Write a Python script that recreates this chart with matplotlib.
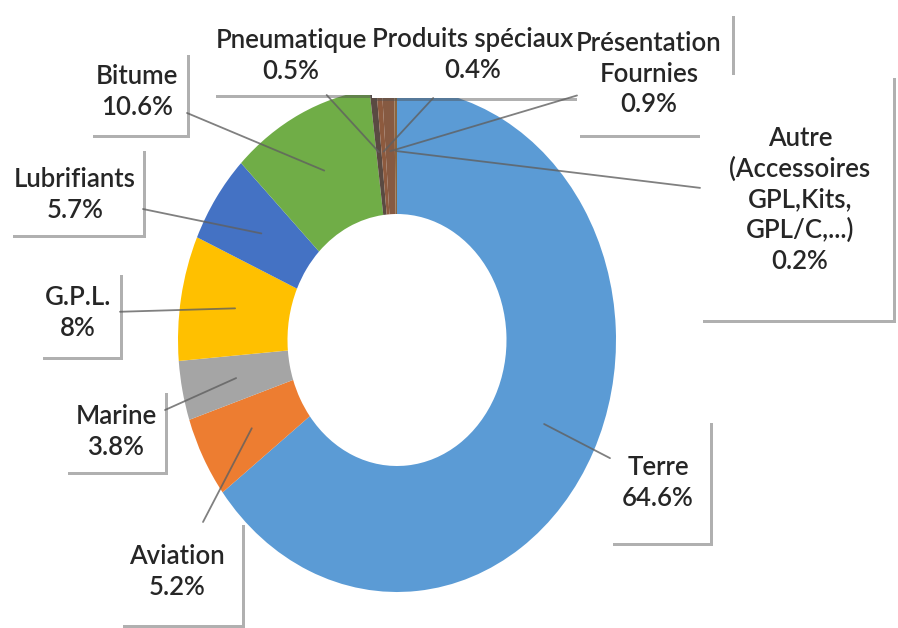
import matplotlib
matplotlib.use('Agg')
import matplotlib.pyplot as plt
import matplotlib.patheffects as pe
from matplotlib.patches import Rectangle
import numpy as np

categories = ['Terre', 'Aviation', 'Marine', 'G.P.L.', 'Lubrifiants', 'Bitume',
              'Pneumatique', 'Produits spéciaux', 'Présentation\nFournies',
              'Autre\n(Accessoires\nGPL,Kits,\nGPL/C,...)']
values = [64.6, 5.2, 3.8, 8, 5.7, 10.6, 0.5, 0.4, 0.9, 0.2]
value_labels = ['64.6%', '5.2%', '3.8%', '8%', '5.7%', '10.6%', '0.5%', '0.4%', '0.9%', '0.2%']
colors = ['#5B9BD5', '#ED7D31', '#A5A5A5', '#FFC000', '#4472C4', '#70AD47',
          '#5a4a42', '#8d5a3e', '#865a42', '#8a6640']

# label centres in pixels (x from left, y from top)
label_px = [(658, 483), (177, 572), (116, 432), (78, 313), (75, 195), (137, 92),
            (291, 56), (473, 55), (649, 74), (800, 200)]
# label boxes in pixels (left, top, right, bottom)
label_box = [(610, 420, 710, 543), (120, 522, 242, 625), (65, 390, 165, 472),
             (40, 272, 120, 357), (10, 148, 143, 235), (90, 52, 187, 135),
             (213, 15, 375, 95), (372, 10, 582, 98), (577, 13, 732, 135),
             (700, 75, 893, 320)]
draw_order = [0, 1, 2, 3, 4, 5, 6, 7, 8, 9]

W, H = 898, 628
fig = plt.figure(figsize=(W / 100, H / 100), dpi=100)
ax = fig.add_axes([0, 0, 1, 1])
wedges, _ = ax.pie(values, colors=colors, startangle=90, counterclock=False,
                   radius=1, wedgeprops=dict(width=0.5, linewidth=0))
ax.set_aspect('auto')
ax.axis('off')

fam = ['Lato', 'DejaVu Sans']
shadow = [pe.withSimplePatchShadow(offset=(2, -2), shadow_rgbFace='#505050', alpha=0.45),
          pe.Normal()]
for k, i in enumerate(draw_order):
    w = wedges[i]
    l, t, r, b = label_box[i]
    rect = Rectangle((l / W, 1 - b / H), (r - l) / W, (b - t) / H,
                     transform=fig.transFigure, fc='white', ec='none', zorder=3 + 0.01 * k)
    rect.set_path_effects(shadow)
    ax.add_patch(rect)
    th = np.deg2rad((w.theta1 + w.theta2) / 2)
    xy = (0.75 * np.cos(th), 0.75 * np.sin(th))
    px, py = label_px[i]
    ax.annotate(f"{categories[i]}\n{value_labels[i]}", xy=xy, xycoords='data',
                xytext=(px, H - py), textcoords='figure pixels',
                ha='center', va='center', fontsize=18.5, family=fam,
                fontweight='semibold', color='#262626', linespacing=1.27,
                arrowprops=dict(arrowstyle='-', color='#606060', lw=1.3,
                                shrinkA=0, shrinkB=0, alpha=0.8, patchA=rect),
                zorder=5)

cx, cy, rx, ry = 397, 340, 219, 252
ax.set_xlim(-cx / rx, (W - cx) / rx)
ax.set_ylim(-(H - cy) / ry, cy / ry)

fig.savefig('out.png', dpi=100)
